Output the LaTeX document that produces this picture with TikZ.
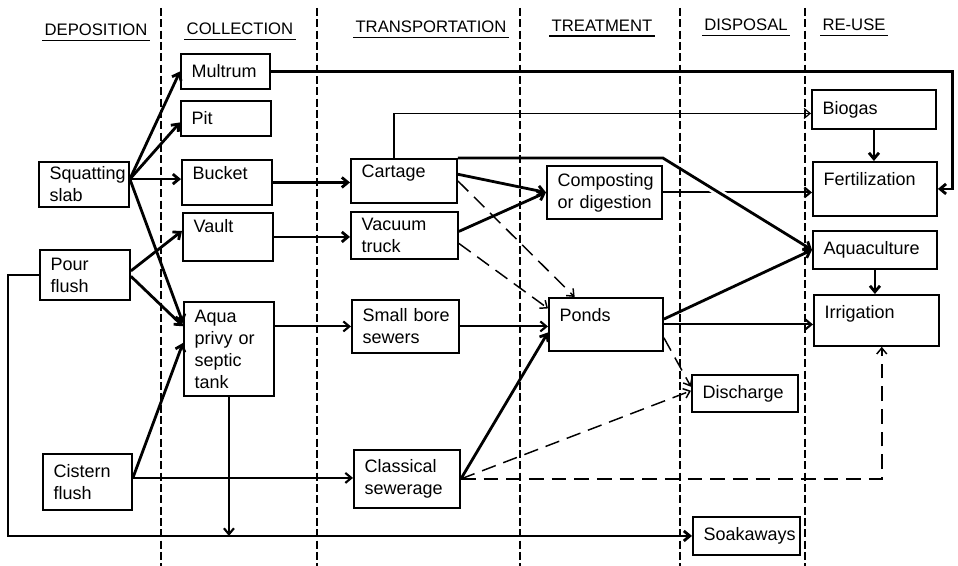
\documentclass[tikz,border=0pt]{standalone}
\usepackage{fontspec}
\setmainfont{Liberation Sans}
\usetikzlibrary{arrows.meta, calc}
\newcommand{\boxfont}{\fontsize{13.5}{16.5}\selectfont\hyphenpenalty=10000\exhyphenpenalty=10000}
\newcommand{\headfont}{\fontsize{12.5}{14}\selectfont}

\begin{document}
\begin{tikzpicture}[
    x=0.75pt, y=-0.75pt,
    >={Straight Barb[length=4.5pt, width=7.5pt]},
    stage/.style n args={2}{
        draw=black,
        line width=1.4pt,
        anchor=north west,
        align=left,
        font=\boxfont,
        inner xsep=8pt,
        inner ysep=2pt,
        text width=#1*0.75pt-16pt,
        minimum height=#2*0.75pt,
    },
    toptext/.style={text depth=#1},
    head/.style={font=\headfont, anchor=base, inner xsep=1.5pt, inner ysep=3pt},
    underline/.style={line width=1.3pt},
    divider/.style={line width=0.9pt, dash pattern=on 6pt off 2.5pt},
    flow/.style={->, line width=2.1pt},
    pipe/.style={->, line width=1.6pt},
    thinflow/.style={->, line width=0.9pt},
    option/.style={->, line width=1.1pt, dash pattern=on 11pt off 6pt},
]
\useasboundingbox (0,0) rectangle (958,566);

% -- Column headings
\node[head] (dep) at (96,36) {DEPOSITION};
\node[head] (coll) at (240,35) {COLLECTION};
\node[head] (trans) at (431,33) {TRANSPORTATION};
\node[head] (treat) at (602,32) {TREATMENT};
\node[head] (disp) at (746,31) {DISPOSAL};
\node[head] (reuse) at (854,31) {RE-USE};
\draw[underline] (dep.south west) -- (dep.south east);
\draw[underline] (coll.south west) -- (coll.south east);
\draw[underline] (trans.south west) -- (trans.south east);
\draw[underline] (treat.south west) -- (treat.south east);
\draw[underline] (disp.south west) -- (disp.south east);
\draw[underline] (reuse.south west) -- (reuse.south east);

% -- Column dividers
\draw[divider] (161,8) -- (161,566);
\draw[divider] (317,8) -- (317,566);
\draw[divider] (520,8) -- (520,566);
\draw[divider] (680,8) -- (680,566);
\draw[divider] (805,8) -- (805,566);

% -- Deposition
\node[stage={90}{45}] (sq) at (38,161) {Squatting\\slab};
\node[stage={90}{50}] (pf) at (39,249) {Pour\\flush};
\node[stage={89}{56}] (cf) at (42,453) {Cistern\\flush};

% -- Collection
\node[stage={89}{35}] (multrum) at (180,53) {Multrum};
\node[stage={90}{35}] (pit) at (180,100) {Pit};
\node[stage={90}{45}, toptext=14.9pt] (bucket) at (181,159) {Bucket};
\node[stage={90}{48}, toptext=17pt] (vault) at (182,212) {Vault};
\node[stage={90}{94}] (aqua) at (183,301) {Aqua\\privy~or\\septic\\tank};

% -- Transportation
\node[stage={106}{44}, toptext=14.2pt] (cartage) at (350,158) {Cartage};
\node[stage={107}{47}] (vac) at (350,211) {Vacuum\\truck};
\node[stage={107}{53}] (sbs) at (351,299) {Small~bore\\sewers};
\node[stage={106}{58}] (cs) at (353,449) {Classical\\sewerage};

% -- Treatment
\node[stage={115}{53}] (comp) at (546,165) {Composting\\or~digestion};
\node[stage={114}{53}, toptext=14.9pt] (ponds) at (548,297) {Ponds};

% -- Disposal
\node[stage={106}{37}] (disch) at (691,374) {Discharge};
\node[stage={107}{38}] (soak) at (692,516) {Soakaways};

% -- Re-use
\node[stage={124}{39}] (biogas) at (811,89) {Biogas};
\node[stage={124}{54}, toptext=14.2pt] (fert) at (812,161) {Fertilization};
\node[stage={124}{38}] (aqc) at (812,230) {Aquaculture};
\node[stage={125}{51}, toptext=12.7pt] (irr) at (813,294) {Irrigation};

% ===== Arrows =====

% squatting slab fans out
\coordinate (sqout) at ([yshift=4pt]sq.east);
\draw[flow] (sqout) -- (multrum.west);
\draw[flow] (sqout) -- ([yshift=-3pt]pit.west);
\draw[flow] (sqout) -- (sqout -| bucket.west);
\draw[flow] (sqout) -- ([yshift=19.5pt]aqua.west);

% pour flush and cistern flush
\draw[flow] ([yshift=3pt]pf.east) -- ([yshift=4.5pt]vault.west);
\draw[flow] ([yshift=-1pt]pf.east) -- ([yshift=17pt]aqua.west);
\draw[flow] ([yshift=3pt]cf.east) -- ([yshift=4.5pt]aqua.west);
\draw[pipe] ([yshift=3pt]cf.east) -- ([yshift=3pt]cf.east -| cs.west);

% pour flush round the bottom to soakaways
\draw[flow] (pf.west) -- ++(-31,0) |- (soak.west);
\draw[pipe] (aqua.south) -- (aqua.south |- soak.west);

% multrum straight to fertilization
\draw[flow] (multrum.east) -- ++(682,0) |- (fert.east);

% collection -> transportation
\draw[flow] (bucket.east) -- (bucket.east -| cartage.west);
\draw[flow] (vault.east) -- (vault.east -| vac.west);
\draw[pipe] (sbs.west -| aqua.east) -- (sbs.west);

% transportation -> treatment
\draw[thinflow] ([xshift=33pt]cartage.north west) |- ([yshift=-3pt]biogas.west);
\draw[flow] ([yshift=5pt]cartage.east) -- (comp.west);
\draw[flow] ([yshift=3pt]vac.east) -- (comp.west);
\draw[option] (cartage.east) -- ([xshift=20pt]ponds.north west);
\draw[option] ([yshift=-6pt]vac.east) -- ([yshift=12pt]ponds.west);
\draw[pipe] (sbs.east) -- (sbs.east -| ponds.west);
\draw[flow] (cs.east) -- ([yshift=-6pt]ponds.west);
\draw[option] (cs.east) -- ([yshift=2pt]disch.west);
\draw[option] (cs.east) -| ([xshift=4pt]irr.south);

% treatment -> re-use
\draw[pipe] (comp.east) -- (comp.east -| fert.west);
\coordinate (cbend) at (cartage.north east -| comp.east);
\draw[white, line width=6pt] ($(cbend)!0.3!(aqc.west)$) -- ($(cbend)!0.44!(aqc.west)$);
\draw[flow] (cartage.north east) -- (cbend) -- (aqc.west);
\draw[flow] ([yshift=4pt]ponds.east) -- (aqc.west);
\draw[pipe] (ponds.east) -- (ponds.east -| irr.west);
\draw[option] ([yshift=-10pt]ponds.east) -- ([yshift=5pt]disch.west);

% within re-use
\draw[flow] (biogas.south) -- (biogas.south |- fert.north);
\draw[flow] (aqc.south) -- (aqc.south |- irr.north);

\end{tikzpicture}
\end{document}
